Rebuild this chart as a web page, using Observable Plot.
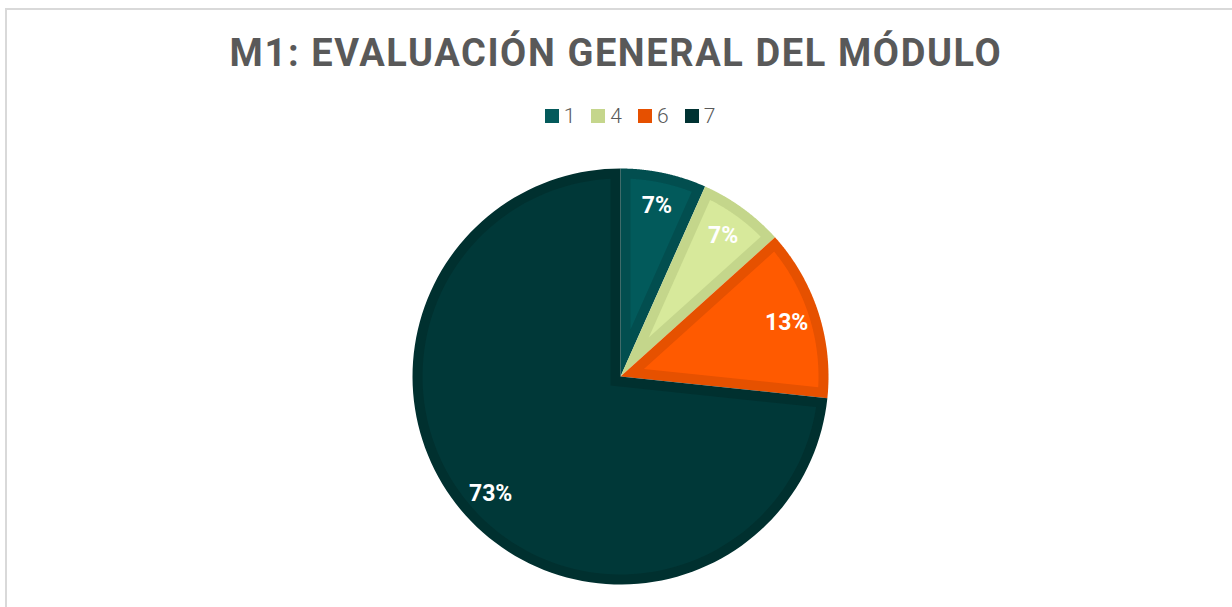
<!DOCTYPE html>
<html>
<head>
<meta charset="utf-8">
<script src="https://cdn.jsdelivr.net/npm/d3@7"></script>
<script src="https://cdn.jsdelivr.net/npm/@observablehq/plot@0.6"></script>
<style>
  html, body { margin: 0; padding: 0; background: #fff; }
  body { width: 1232px; height: 607px; position: relative; overflow: hidden; font-family: Roboto, "DejaVu Sans", sans-serif; }
  #frame { position: absolute; left: 5px; top: 8px; width: 1300px; height: 700px; border-left: 2px solid #d9d9d9; border-top: 2px solid #d9d9d9; }
  #title { position: absolute; left: 0; top: 25px; width: 1232px; text-align: center; font-weight: 700; font-size: 38px; letter-spacing: 1.6px; color: #595959; line-height: 56px; white-space: nowrap; }
  #legend { position: absolute; left: 14px; top: 104px; width: 1232px; display: flex; justify-content: center; font-size: 21px; font-weight: 300; color: #595959; line-height: 24px; }
  .item { display: flex; align-items: center; margin: 0 8px; }
  .sw { width: 14px; height: 14px; margin-right: 5px; display: inline-block; }
  #chart { position: absolute; left: 0; top: 145px; }
</style>
</head>
<body>
<div id="frame"></div>
<div id="title">M1: EVALUACIÓN GENERAL DEL MÓDULO</div>
<div id="legend"></div>
<div id="chart"></div>
<script>
// ---- data ----
const categories = ["1", "4", "6", "7"];
const counts = [1, 1, 2, 11];
const labels = ["7%", "7%", "13%", "73%"];
const fillColors = ["#025a5b", "#d7e99b", "#ff5a00", "#003838"];
const borderColors = ["#024e4f", "#c4d68b", "#e65100", "#00302f"];
const legendColors = ["#045a5b", "#c5d68c", "#e65000", "#003232"];

// ---- geometry (unit circle, angles clockwise from 12 o'clock) ----
const W = 1232, H = 462;
const R = 208;               // pie radius in px
const cx = 620, cy = 231;    // pie centre in svg px
const du = 10 / R;           // border width in unit coords

const arcs = d3.pie().sort(null).value((d, i) => counts[i])(categories);
const pt = (a, r) => ({x: r * Math.sin(a), y: r * Math.cos(a)});
const rows = [];
arcs.forEach((a, i) => {
  const a0 = a.startAngle, a1 = a.endAngle, n = 120;
  // outer (border) sector
  rows.push({key: i + "o", ...pt(0, 0), color: borderColors[i]});
  for (let k = 0; k <= n; k++) rows.push({key: i + "o", ...pt(a0 + (a1 - a0) * k / n, 1), color: borderColors[i]});
  // inset sector
  const th = a1 - a0, rho = 1 - du, da = Math.asin(du / rho);
  const apex = pt((a0 + a1) / 2, du / Math.sin(th / 2));
  rows.push({key: i + "i", ...apex, color: fillColors[i]});
  for (let k = 0; k <= n; k++) rows.push({key: i + "i", ...pt(a0 + da + (a1 - a0 - 2 * da) * k / n, rho), color: fillColors[i]});
});
const labelRows = arcs.map((a, i) => ({...pt((a.startAngle + a.endAngle) / 2, 0.84), text: labels[i]}));

const chart = Plot.plot({
  width: W, height: H,
  marginLeft: cx - R, marginRight: W - cx - R,
  marginTop: cy - R, marginBottom: H - cy - R,
  x: {domain: [-1, 1], axis: null},
  y: {domain: [-1, 1], axis: null},
  color: {type: "identity"},
  marks: [
    Plot.line(rows, {x: "x", y: "y", z: "key", fill: "color", stroke: "none"}),
    Plot.text(labelRows, {x: "x", y: "y", text: "text", fill: "white", fontSize: 23, fontWeight: 700, fontFamily: "Roboto, DejaVu Sans, sans-serif"})
  ]
});
document.getElementById("chart").appendChild(chart);

// legend
const leg = document.getElementById("legend");
categories.forEach((c, i) => {
  const it = document.createElement("div");
  it.className = "item";
  const sw = document.createElement("span");
  sw.className = "sw"; sw.style.background = legendColors[i];
  it.appendChild(sw);
  it.appendChild(document.createTextNode(c));
  leg.appendChild(it);
});
</script>
</body>
</html>
